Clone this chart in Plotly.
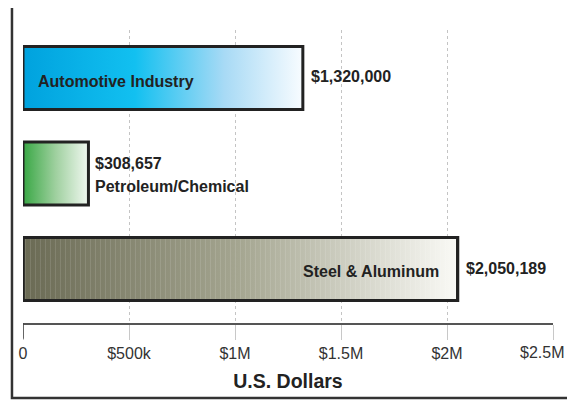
import plotly.graph_objects as go

categories = ["Automotive Industry", "Petroleum/Chemical", "Steel & Aluminum"]
values = [1320000, 308657, 2050189]
value_labels = ["$1,320,000", "$308,657", "$2,050,189"]
tick_vals = [0, 500000, 1000000, 1500000, 2000000, 2500000]
tick_text = ["0", "$500k", "$1M", "$1.5M", "$2M", "$2.5M"]

gradients = [
    [[0, "#00a2de"], [0.4, "#12c0f0"], [0.72, "#a8daf5"], [1, "#f8fcff"]],
    [[0, "#38a744"], [0.5, "#9fd09f"], [1, "#f1f8f1"]],
    [[0, "#6a6a54"], [0.5, "#a5a691"], [1, "#fafaf6"]],
]

FONT = "Arial, Liberation Sans, sans-serif"
half = 0.33
LBL = 16
TICKFONT = dict(family=FONT, size=16, color="#333")

fig = go.Figure()
for i, (name, v) in enumerate(zip(categories, values)):
    xs = [0, v, v, 0, 0]
    ys = [i - half, i - half, i + half, i + half, i - half]
    fig.add_trace(go.Scatter(
        x=xs, y=ys, mode="lines", fill="toself",
        fillgradient=dict(type="horizontal", colorscale=gradients[i]),
        line=dict(color="#222222", width=3),
        name=name, showlegend=False, hoverinfo="skip",
    ))
    if i == 2:
        fig.add_trace(go.Scatter(
            x=xs, y=ys, mode="lines", fill="toself",
            fillcolor="rgba(0,0,0,0)",
            fillpattern=dict(shape="|", size=5, solidity=0.15,
                             fgcolor="rgba(255,255,255,0.3)", bgcolor="rgba(0,0,0,0)"),
            line=dict(color="#222222", width=3),
            showlegend=False, hoverinfo="skip",
        ))

annotations = []
annotations.append(dict(x=0, y=0, xref="x", yref="y", text="<b>Automotive Industry</b>",
                        xanchor="left", yanchor="middle", xshift=13, yshift=-3, showarrow=False,
                        font=dict(family=FONT, size=LBL, color="#222")))
annotations.append(dict(x=values[0], y=0, xref="x", yref="y", text="<b>" + value_labels[0] + "</b>",
                        xanchor="left", yanchor="middle", xshift=6, yshift=2, showarrow=False,
                        font=dict(family=FONT, size=LBL, color="#222")))
annotations.append(dict(x=values[1], y=1, xref="x", yref="y", text="<b>" + value_labels[1] + "</b>",
                        xanchor="left", yanchor="middle", xshift=5, yshift=10, showarrow=False,
                        font=dict(family=FONT, size=LBL, color="#222")))
annotations.append(dict(x=values[1], y=1, xref="x", yref="y", text="<b>Petroleum/Chemical</b>",
                        xanchor="left", yanchor="middle", xshift=5, yshift=-13, showarrow=False,
                        font=dict(family=FONT, size=LBL, color="#222")))
annotations.append(dict(x=values[2], y=2, xref="x", yref="y", text="<b>Steel & Aluminum</b>",
                        xanchor="right", yanchor="middle", xshift=-17, yshift=-2, showarrow=False,
                        font=dict(family=FONT, size=LBL, color="#222")))
annotations.append(dict(x=values[2], y=2, xref="x", yref="y", text="<b>" + value_labels[2] + "</b>",
                        xanchor="left", yanchor="middle", xshift=6, yshift=1, showarrow=False,
                        font=dict(family=FONT, size=LBL, color="#222")))
# last tick label, nudged left so it stays fully visible
annotations.append(dict(x=tick_vals[-1], y=0, xref="x", yref="paper", text=tick_text[-1],
                        xanchor="center", yanchor="middle", xshift=-11, yshift=-29, showarrow=False,
                        font=TICKFONT))

shapes = [
    dict(type="rect", xref="paper", yref="paper", x0=-0.0208, x1=1.08, y0=-0.256, y1=1.0887,
         line=dict(color="#333333", width=2.5), fillcolor="rgba(0,0,0,0)", layer="below"),
    dict(type="line", xref="x", yref="paper", x0=0, x1=0, y0=0, y1=-0.054,
         line=dict(color="#444444", width=1.5)),
]

# the page body has an 8px default margin, so the figure is offset by 8px
fig.update_layout(
    width=567, height=392,
    margin=dict(l=15, r=22, t=22, b=77, autoexpand=False),
    paper_bgcolor="white", plot_bgcolor="white",
    font=dict(family=FONT, color="#333"),
    annotations=annotations, shapes=shapes,
    xaxis=dict(
        range=[0, 2500000], tickvals=tick_vals, ticktext=tick_text[:-1] + [""],
        showgrid=True, gridcolor="#c4c4c4", griddash="dot", gridwidth=1,
        zeroline=False, showline=True, linecolor="#555555", linewidth=1.5,
        ticks="outside", ticklen=15, tickcolor="#c8c8c8", tickwidth=1,
        tickfont=TICKFONT,
        automargin=False,
        title=dict(text="<b>U.S. Dollars</b>", font=dict(family=FONT, size=19.5, color="#222"), standoff=13),
        fixedrange=True,
    ),
    yaxis=dict(
        range=[2.565, -0.503], showgrid=False, zeroline=False, showticklabels=False,
        showline=False, fixedrange=True, automargin=False,
    ),
)

fig.write_html("out.html")
